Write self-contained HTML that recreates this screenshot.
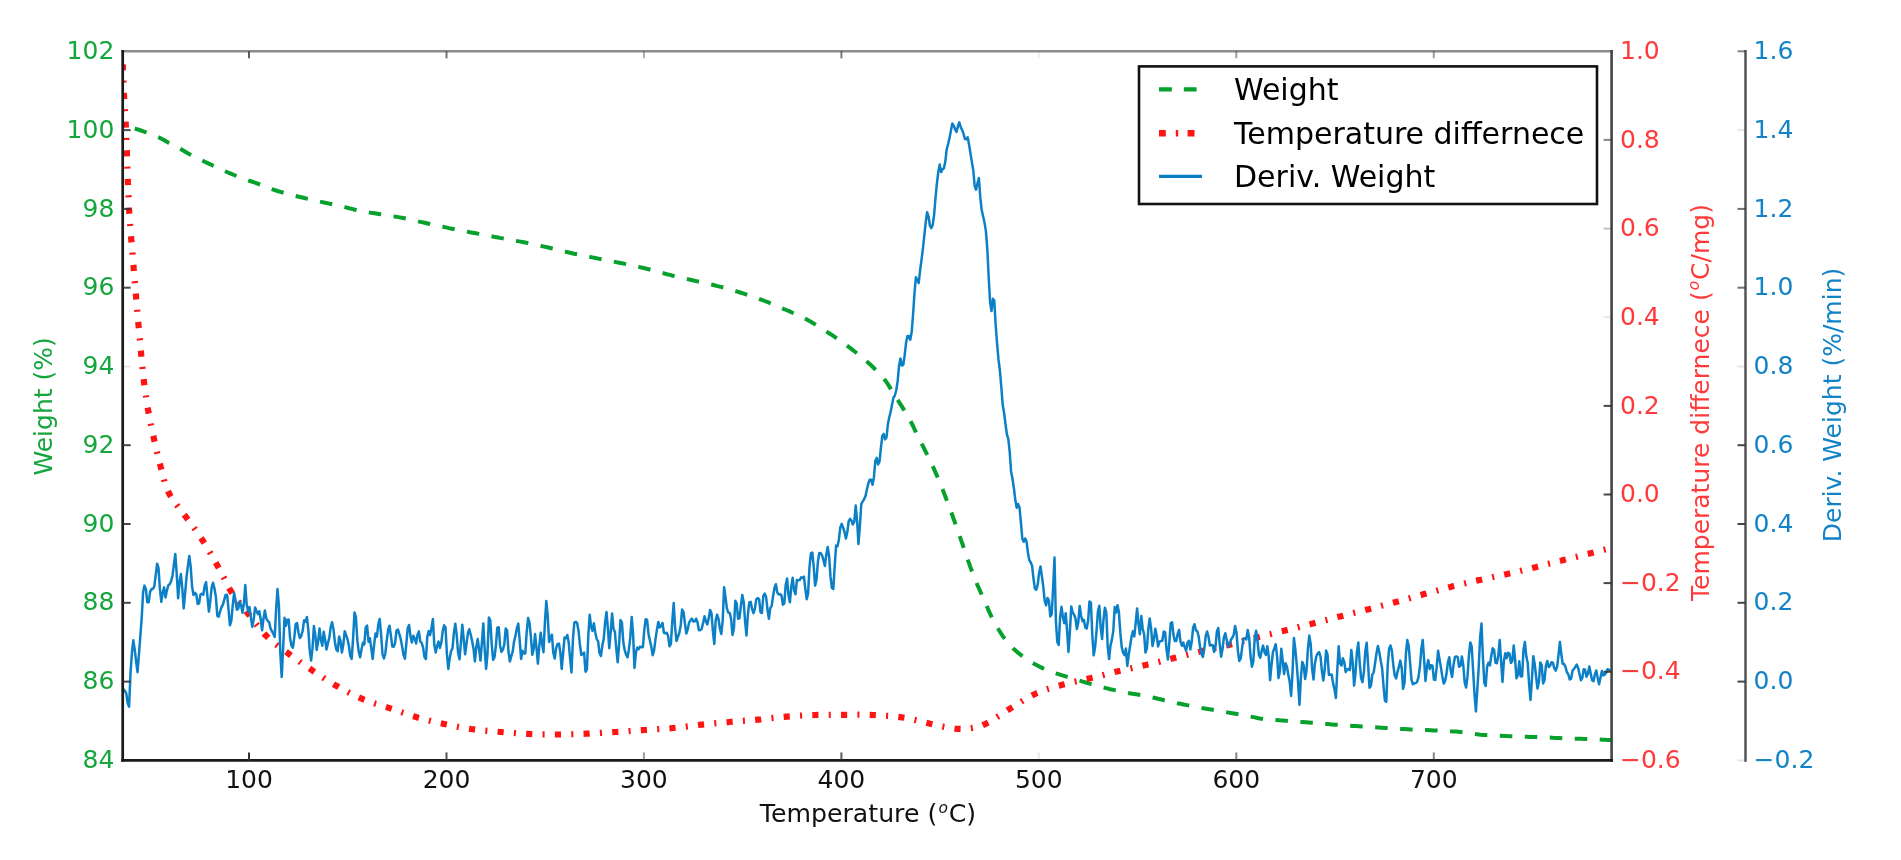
<!DOCTYPE html>
<html><head><meta charset="utf-8"><title>TGA chart</title>
<style>html,body{margin:0;padding:0;background:#fff;overflow:hidden}svg{display:block;filter:blur(0.7px)}</style></head>
<body>
<svg width="1901" height="860" viewBox="0 0 1901 860" font-family="'DejaVu Sans','Liberation Sans',sans-serif" font-size="25">
<rect width="1901" height="860" fill="#fff"/>
<clipPath id="ax"><rect x="122.7" y="51.3" width="1488.8999999999999" height="709.1"/></clipPath>
<g clip-path="url(#ax)" fill="none">
<path d="M123.5,125.8 L125.6,126.3 L128.6,127.0 L132.1,127.9 L135.8,128.9 L139.5,130.0 L142.7,131.1 L146.1,132.3 L149.6,133.7 L153.1,135.0 L156.3,136.3 L159.0,137.5 L163.0,139.5 L166.0,141.3 L169.0,143.0 L172.3,144.7 L175.7,146.3 L179.0,148.0 L182.3,150.0 L185.7,152.0 L189.0,154.0 L192.3,155.7 L195.5,157.3 L199.0,159.0 L201.8,160.3 L204.7,161.7 L207.7,163.1 L210.7,164.5 L213.6,165.9 L216.6,167.3 L219.6,168.7 L222.5,170.0 L225.3,171.3 L228.0,172.5 L230.8,173.7 L234.0,175.0 L237.0,176.2 L240.4,177.4 L243.8,178.7 L247.1,179.9 L250.0,181.0 L253.5,182.2 L256.3,183.2 L260.0,184.5 L262.4,185.4 L265.1,186.5 L268.0,187.6 L271.0,188.8 L274.2,189.9 L277.5,191.0 L280.5,191.9 L283.7,192.8 L287.0,193.7 L290.3,194.6 L293.7,195.4 L296.9,196.2 L300.0,197.0 L303.4,197.8 L306.7,198.6 L309.8,199.3 L313.0,200.1 L316.1,200.8 L319.4,201.5 L322.3,202.1 L325.2,202.8 L328.1,203.4 L331.1,204.0 L334.1,204.7 L337.0,205.3 L340.0,206.0 L343.0,206.7 L346.0,207.4 L349.0,208.2 L352.0,208.9 L355.0,209.7 L358.0,210.4 L361.0,211.0 L364.0,211.6 L367.0,212.1 L370.0,212.6 L373.0,213.1 L376.0,213.5 L379.0,214.0 L382.0,214.5 L385.0,215.0 L387.9,215.4 L390.8,215.9 L393.7,216.4 L396.7,216.9 L399.8,217.4 L403.0,218.0 L405.9,218.6 L408.9,219.2 L412.0,219.9 L415.1,220.6 L418.3,221.4 L421.5,222.1 L424.6,222.8 L427.7,223.5 L430.8,224.2 L433.8,224.8 L436.9,225.5 L439.9,226.2 L442.9,226.8 L446.0,227.4 L449.0,228.1 L452.0,228.7 L455.0,229.3 L458.0,229.9 L461.0,230.5 L463.9,231.0 L466.9,231.6 L469.8,232.2 L472.8,232.7 L475.8,233.3 L478.8,233.9 L481.8,234.5 L484.8,235.0 L487.8,235.6 L490.8,236.2 L493.8,236.8 L496.8,237.3 L499.8,237.9 L502.8,238.4 L505.8,239.0 L508.7,239.5 L511.7,240.0 L514.7,240.5 L517.7,241.1 L520.6,241.6 L523.6,242.2 L526.6,242.8 L529.5,243.4 L532.5,244.0 L535.4,244.7 L538.3,245.3 L541.3,246.0 L544.2,246.6 L547.2,247.3 L550.2,248.0 L553.1,248.7 L556.1,249.4 L559.1,250.2 L562.0,250.9 L565.0,251.6 L568.0,252.3 L571.0,253.0 L574.0,253.7 L577.1,254.3 L580.1,254.9 L583.2,255.6 L586.2,256.2 L589.3,256.8 L592.3,257.4 L595.3,258.0 L598.3,258.6 L601.3,259.2 L604.2,259.8 L607.2,260.3 L610.1,260.9 L613.1,261.5 L616.0,262.1 L619.0,262.7 L621.9,263.3 L624.9,263.9 L627.8,264.5 L630.8,265.1 L633.7,265.8 L636.6,266.4 L639.6,267.1 L642.6,267.8 L645.6,268.5 L648.7,269.3 L651.7,270.1 L654.8,271.0 L657.9,271.8 L660.9,272.6 L664.0,273.4 L667.0,274.2 L670.0,274.9 L672.9,275.7 L675.9,276.4 L678.8,277.1 L681.7,277.7 L684.6,278.4 L687.6,279.1 L690.5,279.8 L693.5,280.5 L696.4,281.1 L699.4,281.8 L702.4,282.4 L705.4,283.1 L708.4,283.8 L711.4,284.5 L714.3,285.2 L717.6,286.1 L720.9,286.9 L724.2,287.8 L727.5,288.7 L730.8,289.6 L734.0,290.6 L737.3,291.6 L740.2,292.5 L743.0,293.4 L745.9,294.3 L748.8,295.3 L751.7,296.2 L754.5,297.2 L757.4,298.2 L760.3,299.3 L763.2,300.4 L766.1,301.5 L769.0,302.7 L771.9,303.9 L774.8,305.1 L777.7,306.3 L780.5,307.6 L783.4,308.8 L786.3,310.0 L789.1,311.2 L791.9,312.5 L794.8,313.7 L797.6,315.0 L800.4,316.3 L803.2,317.6 L805.9,319.0 L808.6,320.5 L811.3,322.0 L813.9,323.6 L816.5,325.2 L819.1,326.8 L821.7,328.4 L824.3,330.1 L826.9,331.8 L829.5,333.5 L832.1,335.2 L834.6,336.9 L837.2,338.7 L839.8,340.5 L842.3,342.3 L844.8,344.1 L847.3,345.9 L849.8,347.7 L852.2,349.6 L854.7,351.5 L857.1,353.4 L859.5,355.3 L861.9,357.3 L864.2,359.2 L866.5,361.2 L869.1,363.5 L871.6,365.8 L874.1,368.2 L876.5,370.5 L878.9,372.9 L881.1,375.3 L883.2,377.8 L885.1,380.2 L886.9,382.7 L888.5,385.1 L890.0,387.6 L891.6,390.2 L893.2,392.9 L895.0,395.7 L896.7,398.3 L898.4,401.0 L900.2,403.8 L902.0,406.6 L903.8,409.6 L905.6,412.5 L907.3,415.4 L909.0,418.4 L910.4,421.1 L911.9,423.8 L913.3,426.5 L914.6,429.3 L916.0,432.1 L917.3,434.9 L918.6,437.6 L919.9,440.2 L921.2,442.8 L922.8,445.9 L924.3,448.9 L925.8,451.8 L927.2,454.7 L928.7,457.6 L930.1,460.6 L931.6,463.7 L932.9,466.5 L934.2,469.4 L935.5,472.4 L936.8,475.4 L938.1,478.5 L939.4,481.6 L940.7,484.8 L942.0,488.0 L943.2,490.9 L944.3,493.9 L945.5,497.0 L946.7,500.1 L947.9,503.2 L949.1,506.4 L950.3,509.6 L951.4,512.8 L952.6,516.0 L953.6,518.9 L954.7,521.8 L955.7,524.8 L956.8,527.8 L957.8,530.7 L958.8,533.7 L959.9,536.7 L960.9,539.7 L962.0,542.7 L963.0,545.7 L964.0,548.7 L965.1,551.7 L966.1,554.8 L967.2,557.8 L968.2,560.9 L969.3,563.9 L970.3,566.9 L971.4,569.8 L972.4,572.6 L973.5,575.4 L974.8,578.7 L976.1,581.9 L977.4,585.0 L978.8,588.0 L980.1,591.0 L981.4,593.9 L982.7,596.9 L984.0,599.8 L985.3,602.7 L986.5,605.6 L987.8,608.5 L989.0,611.4 L990.3,614.2 L991.6,617.0 L993.0,619.8 L994.5,622.5 L996.1,625.2 L997.7,628.0 L999.3,630.7 L1001.0,633.4 L1002.8,636.1 L1004.6,638.6 L1006.5,641.1 L1008.4,643.4 L1010.7,645.9 L1013.0,648.2 L1015.5,650.5 L1018.0,652.6 L1020.5,654.6 L1023.2,656.6 L1025.9,658.5 L1028.7,660.4 L1031.5,662.2 L1034.4,663.9 L1037.4,665.5 L1040.5,667.1 L1043.6,668.6 L1046.8,670.0 L1049.7,671.2 L1052.6,672.2 L1055.5,673.3 L1058.5,674.2 L1061.6,675.2 L1064.7,676.1 L1067.8,677.0 L1071.0,678.0 L1073.8,678.9 L1076.8,679.8 L1079.7,680.7 L1082.7,681.6 L1085.7,682.5 L1088.7,683.4 L1091.6,684.3 L1094.6,685.1 L1097.5,685.9 L1100.7,686.8 L1103.9,687.6 L1107.1,688.4 L1110.3,689.2 L1113.5,689.9 L1116.6,690.6 L1119.8,691.3 L1123.0,692.0 L1126.2,692.6 L1129.4,693.2 L1132.6,693.8 L1135.9,694.3 L1139.1,694.8 L1142.3,695.4 L1145.5,696.0 L1148.7,696.6 L1151.9,697.3 L1155.0,698.0 L1158.2,698.8 L1161.3,699.5 L1164.5,700.3 L1167.6,701.1 L1170.8,701.8 L1174.0,702.5 L1177.2,703.2 L1180.4,703.8 L1183.7,704.5 L1186.9,705.1 L1190.2,705.8 L1193.4,706.4 L1196.7,707.0 L1199.9,707.6 L1203.1,708.2 L1206.3,708.7 L1209.5,709.3 L1212.7,709.8 L1215.9,710.4 L1219.1,710.9 L1222.3,711.4 L1225.5,712.0 L1228.8,712.6 L1232.2,713.2 L1235.6,713.8 L1239.1,714.4 L1242.4,715.0 L1245.5,715.6 L1248.4,716.1 L1251.0,716.6 L1254.8,717.4 L1257.4,718.0 L1260.0,718.5 L1263.8,719.0 L1266.4,719.3 L1269.3,719.5 L1272.5,719.8 L1275.8,720.0 L1279.2,720.3 L1282.7,720.5 L1286.1,720.8 L1289.4,721.0 L1292.6,721.2 L1295.8,721.5 L1299.0,721.8 L1302.2,722.0 L1305.4,722.2 L1308.6,722.5 L1311.8,722.8 L1315.0,723.0 L1317.9,723.2 L1320.5,723.5 L1323.0,723.7 L1325.5,723.9 L1328.2,724.1 L1331.4,724.4 L1335.3,724.7 L1340.0,725.0 L1342.3,725.2 L1344.7,725.3 L1347.3,725.5 L1350.0,725.7 L1352.9,725.9 L1355.9,726.1 L1358.9,726.3 L1362.1,726.5 L1365.3,726.7 L1368.6,726.9 L1371.9,727.1 L1375.2,727.3 L1378.6,727.5 L1381.9,727.7 L1385.2,727.9 L1388.5,728.1 L1391.7,728.3 L1394.9,728.5 L1398.0,728.7 L1401.1,728.9 L1404.2,729.0 L1407.5,729.2 L1410.7,729.4 L1414.0,729.5 L1417.3,729.7 L1420.6,729.8 L1423.9,730.0 L1427.2,730.1 L1430.4,730.2 L1433.6,730.4 L1436.8,730.5 L1439.8,730.7 L1442.8,730.8 L1445.7,731.0 L1448.5,731.1 L1451.1,731.3 L1453.6,731.4 L1456.0,731.6 L1460.3,732.0 L1463.8,732.3 L1466.7,732.7 L1469.3,733.1 L1471.7,733.5 L1474.2,733.9 L1477.1,734.3 L1480.6,734.7 L1485.0,735.0 L1487.4,735.1 L1489.9,735.3 L1492.5,735.4 L1495.2,735.6 L1498.1,735.7 L1501.0,735.8 L1504.0,735.9 L1507.1,736.1 L1510.2,736.2 L1513.5,736.3 L1516.7,736.4 L1520.0,736.5 L1523.4,736.7 L1526.7,736.8 L1530.1,736.9 L1533.4,737.0 L1536.8,737.1 L1540.2,737.3 L1543.5,737.4 L1546.4,737.5 L1549.6,737.6 L1552.8,737.8 L1556.1,737.9 L1559.6,738.0 L1563.1,738.2 L1566.6,738.3 L1570.2,738.4 L1573.8,738.6 L1577.4,738.7 L1580.9,738.8 L1584.4,739.0 L1587.8,739.1 L1591.0,739.2 L1594.2,739.4 L1597.2,739.5 L1600.1,739.6 L1602.7,739.7 L1605.2,739.8 L1607.4,739.9 L1609.3,739.9 L1611.0,740.0" stroke="#06a02c" stroke-width="4.0" stroke-dasharray="12.5,12.5" stroke-dashoffset="13.42"/>
<path d="M122.5,56.0 L122.6,57.7 L122.6,59.9 L122.7,62.4 L122.8,65.3 L122.9,68.3 L123.1,71.6 L123.2,75.0 L123.3,78.5 L123.5,82.0 L123.6,85.5 L123.7,88.8 L123.9,92.0 L124.0,95.0 L124.2,98.2 L124.3,101.0 L124.5,103.7 L124.6,106.3 L124.8,108.8 L125.0,111.5 L125.2,114.3 L125.4,117.5 L125.6,121.1 L125.8,125.3 L126.0,130.0 L126.1,132.3 L126.2,134.8 L126.3,137.4 L126.4,140.2 L126.5,143.1 L126.6,146.1 L126.7,149.2 L126.9,152.4 L127.0,155.6 L127.1,158.9 L127.2,162.3 L127.3,165.7 L127.4,169.1 L127.6,172.5 L127.7,175.9 L127.8,179.3 L127.9,182.7 L128.1,186.0 L128.2,189.3 L128.3,192.5 L128.5,195.6 L128.6,198.6 L128.7,201.5 L128.9,204.3 L129.0,207.0 L129.2,210.7 L129.4,214.3 L129.6,217.6 L129.8,220.9 L130.1,224.0 L130.3,227.0 L130.5,229.9 L130.7,232.8 L131.0,235.7 L131.2,238.5 L131.4,241.4 L131.7,244.3 L131.9,247.2 L132.2,250.2 L132.5,253.4 L132.7,256.6 L133.0,260.0 L133.2,262.8 L133.5,265.8 L133.7,268.7 L134.0,271.7 L134.2,274.8 L134.5,277.9 L134.7,281.1 L135.0,284.2 L135.3,287.4 L135.5,290.6 L135.8,293.9 L136.1,297.1 L136.3,300.3 L136.6,303.5 L136.9,306.7 L137.2,309.8 L137.4,312.9 L137.7,316.0 L138.0,319.1 L138.2,322.1 L138.5,325.0 L138.8,328.2 L139.1,331.5 L139.4,334.7 L139.7,337.9 L140.0,341.2 L140.3,344.4 L140.5,347.6 L140.8,350.8 L141.1,353.9 L141.4,357.0 L141.7,360.1 L142.0,363.1 L142.3,366.0 L142.6,368.9 L142.9,371.7 L143.2,374.4 L143.4,377.1 L143.7,379.6 L144.0,382.0 L144.5,385.9 L144.9,389.6 L145.4,393.0 L145.9,396.1 L146.3,399.1 L146.8,402.0 L147.2,404.7 L147.6,407.3 L148.1,409.9 L148.5,412.4 L149.0,415.0 L149.6,418.4 L150.2,421.5 L150.8,424.4 L151.4,427.2 L152.0,430.0 L152.6,432.9 L153.3,435.8 L154.0,439.0 L154.7,442.0 L155.4,445.2 L156.1,448.4 L156.9,451.7 L157.7,455.1 L158.5,458.4 L159.3,461.7 L160.2,464.9 L161.0,468.0 L161.9,471.3 L162.7,474.6 L163.5,477.8 L164.3,480.9 L165.2,484.0 L166.3,487.1 L167.5,490.2 L169.0,493.3 L170.4,495.8 L172.0,498.4 L173.7,500.9 L175.6,503.4 L177.5,506.0 L179.5,508.5 L181.4,511.0 L183.4,513.5 L185.2,515.9 L187.0,518.3 L188.9,520.9 L190.7,523.4 L192.5,525.9 L194.3,528.3 L196.0,530.7 L197.8,533.2 L199.5,535.7 L201.2,538.3 L203.0,541.0 L204.6,543.5 L206.2,546.2 L207.9,548.9 L209.5,551.6 L211.1,554.4 L212.7,557.2 L214.3,560.0 L215.8,562.7 L217.3,565.4 L218.8,568.0 L220.3,570.8 L221.8,573.6 L223.2,576.4 L224.6,579.1 L225.9,581.8 L227.2,584.5 L228.6,587.1 L230.0,589.6 L231.5,592.0 L233.4,594.9 L235.3,597.6 L237.3,600.2 L239.3,602.7 L241.4,605.3 L243.6,608.0 L246.0,611.0 L247.8,613.3 L249.7,615.7 L251.6,618.3 L253.6,620.9 L255.7,623.6 L257.8,626.2 L259.9,628.8 L262.1,631.4 L264.2,633.8 L266.4,636.0 L268.8,638.3 L271.3,640.5 L273.8,642.6 L276.3,644.6 L278.8,646.5 L281.4,648.4 L283.9,650.3 L286.5,652.1 L289.0,654.0 L291.5,655.9 L294.0,657.7 L296.5,659.5 L299.0,661.2 L301.4,663.0 L304.0,664.7 L306.5,666.5 L309.1,668.2 L311.7,670.0 L314.4,671.8 L317.1,673.6 L319.8,675.4 L322.5,677.2 L325.3,679.1 L328.1,680.8 L331.0,682.6 L333.8,684.3 L336.7,686.0 L339.3,687.5 L342.0,688.9 L344.7,690.4 L347.4,691.8 L350.2,693.2 L352.9,694.6 L355.7,695.9 L358.4,697.2 L361.2,698.4 L363.9,699.6 L366.9,700.8 L369.9,701.9 L372.9,702.9 L375.9,703.9 L379.0,704.8 L382.0,705.8 L385.0,706.7 L388.0,707.6 L391.0,708.6 L394.0,709.6 L397.1,710.7 L400.1,711.7 L403.2,712.8 L406.2,713.8 L409.2,714.9 L412.2,715.9 L415.2,716.8 L418.2,717.7 L421.5,718.6 L424.7,719.5 L427.9,720.3 L431.1,721.1 L434.3,721.9 L437.5,722.6 L440.7,723.3 L444.0,724.0 L446.9,724.6 L449.9,725.2 L452.8,725.8 L455.8,726.4 L458.8,727.0 L461.8,727.5 L464.8,728.0 L467.9,728.5 L471.0,729.0 L474.2,729.4 L477.4,729.8 L480.7,730.2 L484.0,730.5 L487.3,730.8 L490.7,731.1 L494.0,731.4 L497.3,731.7 L500.6,732.0 L503.9,732.3 L507.2,732.5 L510.5,732.8 L513.8,733.0 L517.0,733.3 L520.3,733.5 L523.6,733.7 L526.8,733.8 L530.0,734.0 L533.2,734.1 L536.3,734.2 L539.4,734.3 L542.5,734.4 L545.6,734.4 L548.7,734.5 L551.8,734.5 L554.9,734.5 L558.0,734.5 L561.1,734.5 L564.2,734.4 L567.3,734.4 L570.4,734.3 L573.4,734.2 L576.5,734.1 L579.7,734.0 L582.8,733.8 L586.0,733.7 L589.2,733.6 L592.5,733.4 L595.8,733.2 L599.1,733.0 L602.4,732.8 L605.8,732.6 L609.1,732.4 L612.4,732.2 L615.7,732.0 L619.0,731.8 L622.3,731.6 L625.5,731.4 L628.8,731.1 L632.1,730.9 L635.3,730.7 L638.6,730.5 L641.8,730.2 L645.0,730.0 L648.2,729.8 L651.3,729.6 L654.4,729.4 L657.5,729.2 L660.6,729.0 L663.7,728.8 L666.8,728.5 L669.9,728.3 L673.0,728.0 L676.1,727.7 L679.3,727.3 L682.5,727.0 L685.7,726.6 L688.8,726.2 L692.0,725.8 L695.2,725.4 L698.3,725.0 L701.5,724.7 L704.6,724.4 L707.8,724.1 L710.9,723.7 L714.0,723.4 L717.1,723.1 L720.2,722.9 L723.4,722.6 L726.5,722.3 L729.6,722.0 L732.7,721.7 L735.8,721.5 L739.0,721.2 L742.1,720.9 L745.2,720.7 L748.3,720.4 L751.5,720.2 L754.6,719.9 L757.8,719.6 L761.0,719.3 L764.2,718.9 L767.5,718.6 L770.8,718.2 L774.0,717.9 L777.3,717.5 L780.6,717.2 L783.8,716.9 L787.0,716.6 L790.2,716.4 L793.3,716.1 L796.4,715.9 L799.4,715.7 L802.5,715.5 L805.6,715.4 L808.7,715.2 L811.8,715.1 L815.0,715.0 L818.2,714.9 L821.5,714.9 L824.9,714.8 L828.2,714.8 L831.6,714.8 L834.9,714.8 L838.3,714.8 L841.5,714.8 L844.8,714.8 L848.0,714.8 L851.2,714.8 L854.3,714.8 L857.4,714.7 L860.5,714.7 L863.6,714.8 L866.7,714.8 L869.9,714.9 L873.0,715.0 L876.2,715.1 L879.4,715.3 L882.5,715.5 L885.7,715.7 L888.9,715.9 L892.1,716.2 L895.3,716.5 L898.5,716.9 L901.7,717.3 L904.9,717.8 L908.3,718.5 L911.7,719.2 L915.0,720.0 L918.4,720.8 L921.6,721.6 L924.6,722.4 L927.4,723.1 L930.0,723.7 L933.9,724.6 L937.1,725.3 L939.8,725.9 L942.3,726.5 L945.0,727.0 L948.4,727.6 L951.6,728.2 L954.7,728.6 L958.0,728.8 L961.4,728.9 L964.9,728.8 L968.5,728.5 L972.0,728.0 L975.3,727.4 L978.3,726.8 L981.8,725.6 L986.0,723.7 L988.3,722.5 L990.7,721.0 L993.4,719.4 L996.1,717.6 L999.0,715.8 L1001.9,713.9 L1004.8,712.0 L1007.7,710.1 L1010.5,708.4 L1013.3,706.7 L1016.1,704.9 L1018.9,703.2 L1021.7,701.4 L1024.5,699.7 L1027.4,698.0 L1030.2,696.4 L1033.1,694.9 L1036.0,693.5 L1038.9,692.2 L1041.9,691.1 L1044.9,690.0 L1047.8,689.0 L1050.8,688.1 L1053.9,687.2 L1056.9,686.3 L1059.9,685.5 L1063.0,684.6 L1066.1,683.8 L1069.2,683.0 L1072.3,682.2 L1075.4,681.5 L1078.5,680.8 L1081.6,680.1 L1084.8,679.4 L1087.9,678.7 L1091.0,678.0 L1094.1,677.2 L1097.2,676.5 L1100.4,675.7 L1103.5,674.9 L1106.6,674.1 L1109.7,673.3 L1112.8,672.5 L1115.9,671.7 L1119.0,671.0 L1122.0,670.3 L1125.0,669.6 L1128.0,668.9 L1131.0,668.3 L1134.0,667.6 L1137.0,667.0 L1140.0,666.3 L1143.0,665.6 L1146.0,664.9 L1149.1,664.2 L1152.1,663.4 L1155.2,662.7 L1158.4,661.9 L1161.5,661.1 L1164.6,660.3 L1167.7,659.6 L1170.9,658.8 L1174.0,658.0 L1177.1,657.2 L1180.3,656.4 L1183.4,655.7 L1186.6,654.9 L1189.8,654.1 L1192.9,653.3 L1196.1,652.5 L1199.3,651.8 L1202.4,651.0 L1205.5,650.3 L1208.7,649.5 L1211.8,648.8 L1215.0,648.1 L1218.1,647.4 L1221.2,646.6 L1224.3,645.9 L1227.5,645.2 L1230.6,644.4 L1233.7,643.6 L1236.8,642.8 L1240.0,642.0 L1243.1,641.1 L1246.2,640.3 L1249.3,639.5 L1252.4,638.6 L1255.6,637.8 L1258.7,637.0 L1261.8,636.2 L1265.0,635.4 L1268.1,634.6 L1271.3,633.9 L1274.4,633.1 L1277.6,632.3 L1280.7,631.5 L1283.9,630.8 L1287.0,630.0 L1290.1,629.2 L1293.3,628.4 L1296.4,627.7 L1299.5,626.9 L1302.6,626.1 L1305.8,625.3 L1308.9,624.6 L1311.9,623.8 L1315.0,623.0 L1317.9,622.3 L1320.5,621.6 L1323.0,620.9 L1325.5,620.3 L1328.1,619.6 L1330.9,618.9 L1334.1,618.1 L1337.7,617.1 L1342.0,616.0 L1344.3,615.4 L1346.7,614.8 L1349.2,614.1 L1351.8,613.4 L1354.6,612.7 L1357.5,612.0 L1360.4,611.2 L1363.4,610.5 L1366.5,609.7 L1369.6,608.9 L1372.8,608.0 L1376.0,607.2 L1379.2,606.4 L1382.4,605.5 L1385.6,604.7 L1388.7,603.9 L1391.9,603.0 L1395.0,602.2 L1398.0,601.4 L1400.9,600.6 L1403.7,599.8 L1406.6,599.0 L1409.5,598.2 L1412.4,597.4 L1415.3,596.6 L1418.2,595.8 L1421.2,595.0 L1424.1,594.1 L1427.0,593.3 L1430.0,592.5 L1432.9,591.7 L1435.8,590.8 L1438.8,590.0 L1441.7,589.2 L1444.6,588.4 L1447.5,587.7 L1450.5,586.9 L1453.4,586.1 L1456.3,585.4 L1459.4,584.6 L1462.4,583.9 L1465.5,583.2 L1468.5,582.5 L1471.6,581.8 L1474.7,581.1 L1477.7,580.4 L1480.8,579.8 L1483.8,579.1 L1486.9,578.4 L1489.9,577.8 L1493.0,577.1 L1496.1,576.4 L1499.1,575.8 L1502.2,575.1 L1505.2,574.4 L1508.3,573.7 L1511.3,573.0 L1514.4,572.3 L1517.5,571.6 L1520.6,570.8 L1523.8,570.0 L1527.0,569.3 L1530.2,568.5 L1533.4,567.7 L1536.6,566.9 L1539.9,566.1 L1543.1,565.2 L1546.3,564.4 L1549.4,563.6 L1552.5,562.9 L1555.6,562.1 L1558.6,561.3 L1561.6,560.6 L1564.4,559.8 L1567.2,559.1 L1569.9,558.5 L1572.5,557.8 L1576.2,556.9 L1579.9,555.9 L1583.5,555.0 L1587.1,554.1 L1590.5,553.2 L1593.8,552.4 L1596.9,551.6 L1599.9,550.8 L1602.6,550.1 L1605.1,549.5 L1607.4,548.9 L1609.4,548.4 L1611.0,548.0" stroke="#ff1414" stroke-width="6.2" stroke-dasharray="6.15,10.25,2.05,10.25" stroke-dashoffset="20.44"/>
<path d="M123.5,689.1 L124.9,690.9 L126.3,693.4 L127.7,703.3 L129.1,706.7 L130.5,673.4 L131.9,652.9 L133.3,640.3 L134.7,649.4 L136.1,661.1 L137.5,672.2 L138.9,655.2 L140.3,636.4 L141.7,618.1 L143.1,592.1 L144.5,585.6 L145.9,589.1 L147.3,602.3 L148.7,602.3 L150.1,591.8 L151.5,589.1 L152.9,588.9 L154.3,586.4 L155.7,575.4 L157.1,563.7 L158.5,567.8 L159.9,588.9 L161.3,601.9 L162.7,592.7 L164.1,587.4 L165.5,597.4 L166.9,590.6 L168.3,585.4 L169.7,584.2 L171.1,581.3 L172.5,575.7 L173.9,564.4 L175.3,554.0 L176.7,573.3 L178.1,598.3 L179.5,582.1 L180.9,574.1 L182.3,588.5 L183.7,608.5 L185.1,593.3 L186.5,577.4 L187.9,565.9 L189.3,556.0 L190.7,566.8 L192.1,586.8 L193.5,595.1 L194.9,592.9 L196.3,594.4 L197.7,604.0 L199.1,603.4 L200.5,594.4 L201.9,593.8 L203.3,594.7 L204.7,585.8 L206.1,582.1 L207.5,597.1 L208.9,611.7 L210.3,600.9 L211.7,587.2 L213.1,582.7 L214.5,588.7 L215.9,596.9 L217.3,615.9 L218.7,616.6 L220.1,611.3 L221.5,607.1 L222.9,604.6 L224.3,599.6 L225.7,594.7 L227.1,594.9 L228.5,608.9 L229.9,625.3 L231.3,620.8 L232.7,605.7 L234.1,593.1 L235.5,600.6 L236.9,609.7 L238.3,608.6 L239.7,601.4 L241.1,605.2 L242.5,612.7 L243.9,603.5 L245.3,585.0 L246.7,604.5 L248.1,611.4 L249.5,607.1 L250.9,617.9 L252.3,626.9 L253.7,619.2 L255.1,607.4 L256.5,611.0 L257.9,614.1 L259.3,611.2 L260.7,619.0 L262.1,630.3 L263.5,618.7 L264.9,610.4 L266.3,618.4 L267.7,620.9 L269.1,621.9 L270.5,628.3 L271.9,631.1 L273.3,633.7 L274.7,636.9 L276.1,609.6 L277.5,589.0 L278.9,605.2 L280.3,652.8 L281.7,677.0 L283.1,649.0 L284.5,617.7 L285.9,625.8 L287.3,619.8 L288.7,619.6 L290.1,638.6 L291.5,645.7 L292.9,647.7 L294.3,637.4 L295.7,624.0 L297.1,623.0 L298.5,632.7 L299.9,638.1 L301.3,635.8 L302.7,630.6 L304.1,620.2 L305.5,621.7 L306.9,617.0 L308.3,629.4 L309.7,650.2 L311.1,660.5 L312.5,648.2 L313.9,626.0 L315.3,635.0 L316.7,650.0 L318.1,641.6 L319.5,628.4 L320.9,639.6 L322.3,645.7 L323.7,631.8 L325.1,639.7 L326.5,649.5 L327.9,643.2 L329.3,637.9 L330.7,627.2 L332.1,622.2 L333.5,629.4 L334.9,642.0 L336.3,649.6 L337.7,651.2 L339.1,636.5 L340.5,640.8 L341.9,652.6 L343.3,644.5 L344.7,631.2 L346.1,635.2 L347.5,639.2 L348.9,645.7 L350.3,656.0 L351.7,658.9 L353.1,638.2 L354.5,612.4 L355.9,617.2 L357.3,639.8 L358.7,651.7 L360.1,657.2 L361.5,649.5 L362.9,642.8 L364.3,644.5 L365.7,627.4 L367.1,625.5 L368.5,641.7 L369.9,638.2 L371.3,648.7 L372.7,659.0 L374.1,644.9 L375.5,633.5 L376.9,636.7 L378.3,624.3 L379.7,619.0 L381.1,634.4 L382.5,654.0 L383.9,658.5 L385.3,653.5 L386.7,641.0 L388.1,630.2 L389.5,625.7 L390.9,635.4 L392.3,646.5 L393.7,646.7 L395.1,642.9 L396.5,630.5 L397.9,629.5 L399.3,633.9 L400.7,638.9 L402.1,646.3 L403.5,654.8 L404.9,658.7 L406.3,644.1 L407.7,628.2 L409.1,625.0 L410.5,636.4 L411.9,642.4 L413.3,635.8 L414.7,638.6 L416.1,643.5 L417.5,634.7 L418.9,631.4 L420.3,641.7 L421.7,642.9 L423.1,647.6 L424.5,657.1 L425.9,659.1 L427.3,636.7 L428.7,631.1 L430.1,635.0 L431.5,627.9 L432.9,619.1 L434.3,644.8 L435.7,652.5 L437.1,646.1 L438.5,641.6 L439.9,648.0 L441.3,642.6 L442.7,631.3 L444.1,625.3 L445.5,627.5 L446.9,653.6 L448.3,669.0 L449.7,658.4 L451.1,651.0 L452.5,648.4 L453.9,632.7 L455.3,623.7 L456.7,635.1 L458.1,652.6 L459.5,659.3 L460.9,643.0 L462.3,624.7 L463.7,638.9 L465.1,654.3 L466.5,644.1 L467.9,633.2 L469.3,629.2 L470.7,634.7 L472.1,640.9 L473.5,648.4 L474.9,661.4 L476.3,647.2 L477.7,639.1 L479.1,649.4 L480.5,660.6 L481.9,642.7 L483.3,623.4 L484.7,649.1 L486.1,669.0 L487.5,654.0 L488.9,617.6 L490.3,620.3 L491.7,644.0 L493.1,659.8 L494.5,657.4 L495.9,645.6 L497.3,627.6 L498.7,627.2 L500.1,645.7 L501.5,651.9 L502.9,649.6 L504.3,644.4 L505.7,628.6 L507.1,630.4 L508.5,651.8 L509.9,661.5 L511.3,656.2 L512.7,651.7 L514.1,641.2 L515.5,635.9 L516.9,628.0 L518.3,623.6 L519.7,640.5 L521.1,659.0 L522.5,650.8 L523.9,653.5 L525.3,653.5 L526.7,631.8 L528.1,618.1 L529.5,622.7 L530.9,636.9 L532.3,654.8 L533.7,649.0 L535.1,634.1 L536.5,647.9 L537.9,663.7 L539.3,645.9 L540.7,632.7 L542.1,643.7 L543.5,652.2 L544.9,622.6 L546.3,601.0 L547.7,615.5 L549.1,642.0 L550.5,637.9 L551.9,634.6 L553.3,652.8 L554.7,658.5 L556.1,648.1 L557.5,644.2 L558.9,643.5 L560.3,652.0 L561.7,669.0 L563.1,653.4 L564.5,637.6 L565.9,638.2 L567.3,635.0 L568.7,642.5 L570.1,658.3 L571.5,672.4 L572.9,640.0 L574.3,622.5 L575.7,621.8 L577.1,622.9 L578.5,630.5 L579.9,644.5 L581.3,655.1 L582.7,653.9 L584.1,652.6 L585.5,671.7 L586.9,669.6 L588.3,635.6 L589.7,614.8 L591.1,626.9 L592.5,630.9 L593.9,623.2 L595.3,632.8 L596.7,639.1 L598.1,641.1 L599.5,653.0 L600.9,656.0 L602.3,645.8 L603.7,639.1 L605.1,622.4 L606.5,612.0 L607.9,628.7 L609.3,648.2 L610.7,631.8 L612.1,613.5 L613.5,628.8 L614.9,632.1 L616.3,648.6 L617.7,662.3 L619.1,644.3 L620.5,620.1 L621.9,622.1 L623.3,642.3 L624.7,650.2 L626.1,654.7 L627.5,657.3 L628.9,649.7 L630.3,637.2 L631.7,617.0 L633.1,634.4 L634.5,668.0 L635.9,652.4 L637.3,647.5 L638.7,649.1 L640.1,646.5 L641.5,647.2 L642.9,647.2 L644.3,629.9 L645.7,619.2 L647.1,619.8 L648.5,633.9 L649.9,640.4 L651.3,646.6 L652.7,655.2 L654.1,650.3 L655.5,639.1 L656.9,629.9 L658.3,621.9 L659.7,627.4 L661.1,626.2 L662.5,623.0 L663.9,632.7 L665.3,633.2 L666.7,632.7 L668.1,635.9 L669.5,646.3 L670.9,643.9 L672.3,621.0 L673.7,603.0 L675.1,627.4 L676.5,641.1 L677.9,636.9 L679.3,633.0 L680.7,625.7 L682.1,609.6 L683.5,612.0 L684.9,623.0 L686.3,633.6 L687.7,629.4 L689.1,622.5 L690.5,620.3 L691.9,618.6 L693.3,621.5 L694.7,621.5 L696.1,618.7 L697.5,622.3 L698.9,630.2 L700.3,630.1 L701.7,628.8 L703.1,623.0 L704.5,616.3 L705.9,621.3 L707.3,624.4 L708.7,618.4 L710.1,610.0 L711.5,613.3 L712.9,631.1 L714.3,644.0 L715.7,620.4 L717.1,614.6 L718.5,618.8 L719.9,628.7 L721.3,634.0 L722.7,620.6 L724.1,587.2 L725.5,597.5 L726.9,608.4 L728.3,612.6 L729.7,612.9 L731.1,618.9 L732.5,634.9 L733.9,628.6 L735.3,600.7 L736.7,603.5 L738.1,618.8 L739.5,618.1 L740.9,605.9 L742.3,594.9 L743.7,601.9 L745.1,621.6 L746.5,635.6 L747.9,614.3 L749.3,602.4 L750.7,601.9 L752.1,609.2 L753.5,613.1 L754.9,608.6 L756.3,599.3 L757.7,598.1 L759.1,599.2 L760.5,612.4 L761.9,613.0 L763.3,596.0 L764.7,593.5 L766.1,596.9 L767.5,609.6 L768.9,618.8 L770.3,608.1 L771.7,605.9 L773.1,596.0 L774.5,587.7 L775.9,584.2 L777.3,592.5 L778.7,594.4 L780.1,594.1 L781.5,595.5 L782.9,604.7 L784.3,603.3 L785.7,584.9 L787.1,578.4 L788.5,595.1 L789.9,602.3 L791.3,586.6 L792.7,577.8 L794.1,590.6 L795.5,594.2 L796.9,580.1 L798.3,580.3 L799.7,580.1 L801.1,577.4 L802.5,577.9 L803.9,576.6 L805.3,588.7 L806.7,599.2 L808.1,593.4 L809.5,567.0 L810.9,553.3 L812.3,552.5 L813.7,566.3 L815.1,585.6 L816.5,579.7 L817.9,561.8 L819.3,552.9 L820.7,553.2 L822.1,555.4 L823.5,560.2 L824.9,566.0 L826.3,554.7 L827.7,546.9 L829.1,556.3 L830.5,576.7 L831.9,588.0 L833.3,589.0 L834.7,566.1 L836.1,545.5 L837.5,546.2 L838.9,539.4 L840.3,527.5 L841.7,523.9 L843.1,527.6 L844.5,532.0 L845.9,538.6 L847.3,532.3 L848.7,521.2 L850.1,518.9 L851.5,520.7 L852.9,524.5 L854.3,521.7 L855.7,505.5 L857.1,520.9 L858.5,544.0 L859.9,525.7 L861.3,503.9 L862.7,501.6 L864.1,499.2 L865.5,496.0 L866.9,489.6 L868.3,483.6 L869.7,479.8 L871.1,479.7 L872.5,484.7 L873.9,477.4 L875.3,461.3 L876.7,457.9 L878.1,464.4 L879.5,461.7 L880.9,448.1 L882.3,435.9 L883.7,433.9 L885.1,439.4 L886.5,437.3 L887.9,424.1 L889.3,417.2 L890.7,411.6 L892.1,404.2 L893.5,397.4 L894.9,395.5 L896.3,390.0 L897.7,380.7 L899.1,365.4 L900.5,358.6 L901.9,365.5 L903.3,364.9 L904.7,355.2 L906.1,342.5 L907.5,336.0 L908.9,336.1 L910.3,339.7 L911.7,331.8 L913.1,314.0 L914.5,293.0 L915.9,277.3 L917.3,279.9 L918.7,283.1 L920.1,270.3 L921.5,259.8 L922.9,248.8 L924.3,235.7 L925.7,222.4 L927.1,212.2 L928.5,216.3 L929.9,225.6 L931.3,228.1 L932.7,224.9 L934.1,215.0 L935.5,197.9 L936.9,183.7 L938.3,171.9 L939.7,164.4 L941.1,172.1 L942.5,169.3 L943.9,168.2 L945.3,161.6 L946.7,149.3 L948.1,144.1 L949.5,138.0 L950.9,130.8 L952.3,123.5 L953.7,125.6 L955.1,129.2 L956.5,132.0 L957.9,126.2 L959.3,122.4 L960.7,127.1 L962.1,129.8 L963.5,133.7 L964.9,139.0 L966.3,139.3 L967.7,137.2 L969.1,144.8 L970.5,153.6 L971.9,162.1 L973.3,170.5 L974.7,186.0 L976.1,189.7 L977.5,183.3 L978.9,178.0 L980.3,197.4 L981.7,210.0 L983.1,216.3 L984.5,222.6 L985.9,231.1 L987.3,248.8 L988.7,277.5 L990.1,302.4 L991.5,311.1 L992.9,298.7 L994.3,300.8 L995.7,325.5 L997.1,343.7 L998.5,359.7 L999.9,370.5 L1001.3,387.0 L1002.7,404.8 L1004.1,413.0 L1005.5,424.0 L1006.9,434.5 L1008.3,438.9 L1009.7,451.9 L1011.1,471.7 L1012.5,478.8 L1013.9,488.1 L1015.3,500.1 L1016.7,507.7 L1018.1,504.0 L1019.5,507.5 L1020.9,522.2 L1022.3,538.7 L1023.7,541.8 L1025.1,538.5 L1026.5,541.3 L1027.9,552.5 L1029.3,560.1 L1030.7,562.5 L1032.1,565.7 L1033.5,578.8 L1034.9,588.6 L1036.3,589.7 L1037.7,584.7 L1039.1,573.1 L1040.5,566.4 L1041.9,576.2 L1043.3,586.8 L1044.7,600.8 L1046.1,605.4 L1047.5,597.9 L1048.9,600.4 L1050.3,616.4 L1051.7,614.3 L1053.1,588.3 L1054.5,557.5 L1055.9,621.0 L1057.3,642.0 L1058.7,644.9 L1060.1,617.5 L1061.5,606.8 L1062.9,616.9 L1064.3,623.2 L1065.7,613.2 L1067.1,630.8 L1068.5,652.0 L1069.9,631.4 L1071.3,606.4 L1072.7,612.7 L1074.1,614.5 L1075.5,618.5 L1076.9,629.1 L1078.3,622.2 L1079.7,605.9 L1081.1,615.8 L1082.5,621.2 L1083.9,619.8 L1085.3,627.6 L1086.7,628.6 L1088.1,620.8 L1089.5,601.4 L1090.9,602.5 L1092.3,634.9 L1093.7,655.3 L1095.1,647.2 L1096.5,631.7 L1097.9,611.8 L1099.3,605.8 L1100.7,627.6 L1102.1,639.1 L1103.5,619.3 L1104.9,607.8 L1106.3,612.3 L1107.7,646.6 L1109.1,659.0 L1110.5,645.4 L1111.9,639.6 L1113.3,630.9 L1114.7,607.0 L1116.1,612.6 L1117.5,605.3 L1118.9,612.1 L1120.3,632.4 L1121.7,646.9 L1123.1,652.7 L1124.5,655.1 L1125.9,648.5 L1127.3,666.0 L1128.7,655.0 L1130.1,646.0 L1131.5,636.9 L1132.9,631.2 L1134.3,636.4 L1135.7,622.8 L1137.1,608.4 L1138.5,624.1 L1139.9,634.3 L1141.3,616.0 L1142.7,628.7 L1144.1,634.0 L1145.5,652.6 L1146.9,648.2 L1148.3,629.2 L1149.7,618.4 L1151.1,628.7 L1152.5,646.1 L1153.9,639.6 L1155.3,628.7 L1156.7,635.8 L1158.1,646.5 L1159.5,641.7 L1160.9,641.0 L1162.3,640.7 L1163.7,631.6 L1165.1,632.1 L1166.5,649.3 L1167.9,659.6 L1169.3,643.2 L1170.7,623.3 L1172.1,622.2 L1173.5,635.1 L1174.9,641.1 L1176.3,641.0 L1177.7,633.7 L1179.1,629.9 L1180.5,641.6 L1181.9,645.7 L1183.3,642.6 L1184.7,647.1 L1186.1,650.7 L1187.5,642.7 L1188.9,640.7 L1190.3,649.4 L1191.7,642.1 L1193.1,627.7 L1194.5,624.2 L1195.9,630.5 L1197.3,631.2 L1198.7,636.6 L1200.1,647.3 L1201.5,653.7 L1202.9,656.9 L1204.3,648.7 L1205.7,636.1 L1207.1,631.5 L1208.5,636.7 L1209.9,645.6 L1211.3,644.9 L1212.7,645.2 L1214.1,651.9 L1215.5,646.5 L1216.9,631.5 L1218.3,628.0 L1219.7,644.1 L1221.1,656.7 L1222.5,649.3 L1223.9,637.4 L1225.3,633.3 L1226.7,640.0 L1228.1,646.4 L1229.5,644.5 L1230.9,639.7 L1232.3,637.7 L1233.7,634.8 L1235.1,626.0 L1236.5,632.4 L1237.9,650.9 L1239.3,661.0 L1240.7,658.5 L1242.1,647.9 L1243.5,638.8 L1244.9,638.3 L1246.3,639.5 L1247.7,630.1 L1249.1,637.2 L1250.5,655.5 L1251.9,666.7 L1253.3,661.7 L1254.7,638.4 L1256.1,630.7 L1257.5,640.9 L1258.9,654.9 L1260.3,657.7 L1261.7,650.7 L1263.1,645.6 L1264.5,652.1 L1265.9,655.0 L1267.3,646.3 L1268.7,656.1 L1270.1,680.1 L1271.5,665.1 L1272.9,652.3 L1274.3,648.3 L1275.7,644.2 L1277.1,656.6 L1278.5,678.1 L1279.9,671.4 L1281.3,648.7 L1282.7,660.6 L1284.1,674.0 L1285.5,663.3 L1286.9,666.4 L1288.3,674.7 L1289.7,681.8 L1291.1,696.0 L1292.5,672.7 L1293.9,638.0 L1295.3,649.1 L1296.7,664.1 L1298.1,682.3 L1299.5,704.8 L1300.9,677.0 L1302.3,661.9 L1303.7,665.5 L1305.1,679.1 L1306.5,670.7 L1307.9,649.2 L1309.3,635.6 L1310.7,644.1 L1312.1,668.3 L1313.5,679.6 L1314.9,663.5 L1316.3,656.5 L1317.7,653.4 L1319.1,652.1 L1320.5,656.4 L1321.9,670.8 L1323.3,680.5 L1324.7,669.5 L1326.1,650.6 L1327.5,654.4 L1328.9,674.8 L1330.3,674.6 L1331.7,674.7 L1333.1,683.4 L1334.5,689.2 L1335.9,698.0 L1337.3,669.6 L1338.7,646.3 L1340.1,663.6 L1341.5,665.5 L1342.9,658.3 L1344.3,662.2 L1345.7,672.0 L1347.1,669.5 L1348.5,668.9 L1349.9,670.0 L1351.3,650.0 L1352.7,661.7 L1354.1,685.6 L1355.5,673.0 L1356.9,652.3 L1358.3,642.6 L1359.7,662.5 L1361.1,678.1 L1362.5,682.2 L1363.9,671.7 L1365.3,651.3 L1366.7,642.8 L1368.1,664.5 L1369.5,687.8 L1370.9,685.9 L1372.3,674.6 L1373.7,672.3 L1375.1,663.1 L1376.5,653.2 L1377.9,646.1 L1379.3,652.0 L1380.7,660.8 L1382.1,668.1 L1383.5,685.5 L1384.9,700.7 L1386.3,701.7 L1387.7,665.2 L1389.1,648.8 L1390.5,645.5 L1391.9,650.8 L1393.3,665.1 L1394.7,675.3 L1396.1,678.5 L1397.5,671.9 L1398.9,666.9 L1400.3,660.6 L1401.7,668.0 L1403.1,688.8 L1404.5,682.8 L1405.9,654.1 L1407.3,640.1 L1408.7,645.9 L1410.1,662.9 L1411.5,679.8 L1412.9,684.3 L1414.3,683.2 L1415.7,683.1 L1417.1,681.9 L1418.5,676.9 L1419.9,667.0 L1421.3,649.3 L1422.7,639.9 L1424.1,659.3 L1425.5,680.9 L1426.9,666.8 L1428.3,660.1 L1429.7,669.0 L1431.1,665.3 L1432.5,665.6 L1433.9,679.5 L1435.3,679.9 L1436.7,667.2 L1438.1,650.7 L1439.5,659.3 L1440.9,667.4 L1442.3,676.2 L1443.7,683.5 L1445.1,681.1 L1446.5,673.8 L1447.9,662.5 L1449.3,657.2 L1450.7,670.5 L1452.1,676.9 L1453.5,665.1 L1454.9,657.2 L1456.3,656.4 L1457.7,657.1 L1459.1,666.8 L1460.5,665.8 L1461.9,656.4 L1463.3,665.3 L1464.7,682.7 L1466.1,687.5 L1467.5,676.4 L1468.9,655.8 L1470.3,642.4 L1471.7,646.5 L1473.1,670.3 L1474.5,694.3 L1475.9,711.4 L1477.3,690.1 L1478.7,667.3 L1480.1,637.7 L1481.5,623.6 L1482.9,656.9 L1484.3,682.8 L1485.7,686.0 L1487.1,666.7 L1488.5,662.7 L1489.9,665.4 L1491.3,655.8 L1492.7,648.3 L1494.1,649.9 L1495.5,662.9 L1496.9,663.2 L1498.3,655.4 L1499.7,640.0 L1501.1,661.6 L1502.5,682.0 L1503.9,661.0 L1505.3,653.2 L1506.7,658.1 L1508.1,652.8 L1509.5,653.6 L1510.9,663.0 L1512.3,661.1 L1513.7,645.6 L1515.1,659.4 L1516.5,678.3 L1517.9,675.1 L1519.3,661.3 L1520.7,676.3 L1522.1,676.4 L1523.5,649.7 L1524.9,642.1 L1526.3,656.3 L1527.7,662.9 L1529.1,684.1 L1530.5,700.0 L1531.9,679.3 L1533.3,656.2 L1534.7,664.0 L1536.1,676.9 L1537.5,688.5 L1538.9,682.0 L1540.3,662.4 L1541.7,664.9 L1543.1,683.5 L1544.5,680.1 L1545.9,665.7 L1547.3,661.0 L1548.7,667.0 L1550.1,665.8 L1551.5,662.3 L1552.9,662.6 L1554.3,668.4 L1555.7,670.6 L1557.1,666.8 L1558.5,655.1 L1559.9,642.0 L1561.3,654.3 L1562.7,663.7 L1564.1,663.9 L1565.5,667.0 L1566.9,672.2 L1568.3,674.3 L1569.7,679.5 L1571.1,678.6 L1572.5,670.7 L1573.9,668.9 L1575.3,667.0 L1576.7,664.6 L1578.1,667.7 L1579.5,674.0 L1580.9,680.2 L1582.3,678.1 L1583.7,669.2 L1585.1,669.7 L1586.5,676.8 L1587.9,674.0 L1589.3,666.6 L1590.7,673.4 L1592.1,680.3 L1593.5,681.2 L1594.9,674.1 L1596.3,670.5 L1597.7,678.1 L1599.1,684.3 L1600.5,677.5 L1601.9,671.0 L1603.3,675.4 L1604.7,674.6 L1606.1,672.8 L1607.5,669.3 L1608.9,669.6 L1610.3,671.5" stroke="#0c80c6" stroke-width="2.5" stroke-linejoin="round"/>
</g>
<g fill="none" stroke-linecap="square">
<line x1="122.7" y1="51.3" x2="1611.6" y2="51.3" stroke="#8c8c8c" stroke-width="2.6"/>
<line x1="1611.6" y1="51.3" x2="1611.6" y2="760.4" stroke="#444" stroke-width="2.6"/>
<line x1="122.7" y1="51.3" x2="122.7" y2="760.4" stroke="#1a1a1a" stroke-width="2.7"/>
<line x1="122.7" y1="760.4" x2="1611.6" y2="760.4" stroke="#1a1a1a" stroke-width="2.9"/>
<line x1="1745.5" y1="51.3" x2="1745.5" y2="760.4" stroke="#555" stroke-width="2.5"/>
</g>
<g stroke="#333" stroke-width="2" fill="none">
<path d="M249,760.4v-8" opacity="1"/><path d="M249,51.3v7" opacity="0.80"/>
<path d="M446.5,760.4v-8" opacity="0.85"/><path d="M446.5,51.3v7" opacity="0.68"/>
<path d="M643.9,760.4v-8" opacity="0.5"/><path d="M643.9,51.3v7" opacity="0.40"/>
<path d="M841.4,760.4v-8" opacity="0.8"/><path d="M841.4,51.3v7" opacity="0.64"/>
<path d="M1038.8,760.4v-8" opacity="0.1"/><path d="M1038.8,51.3v7" opacity="0.08"/>
<path d="M1236.3,760.4v-8" opacity="0.6"/><path d="M1236.3,51.3v7" opacity="0.48"/>
<path d="M1433.8,760.4v-8" opacity="0.6"/><path d="M1433.8,51.3v7" opacity="0.48"/>
<path d="M122.7,130.1h8" opacity="0.9"/>
<path d="M122.7,208.9h8" opacity="0.9"/>
<path d="M122.7,287.7h8" opacity="0.9"/>
<path d="M122.7,366.5h8" opacity="0.12"/>
<path d="M122.7,445.2h8" opacity="0.9"/>
<path d="M122.7,524.0h8" opacity="0.9"/>
<path d="M122.7,602.8h8" opacity="0.9"/>
<path d="M122.7,681.6h8" opacity="0.9"/>
<path d="M1611.6,139.9h-8" opacity="0.6"/>
<path d="M1611.6,228.6h-8" opacity="0.3"/>
<path d="M1611.6,317.2h-8" opacity="0.12"/>
<path d="M1611.6,405.9h-8" opacity="0.9"/>
<path d="M1611.6,494.5h-8" opacity="0.9"/>
<path d="M1611.6,583.1h-8" opacity="0.9"/>
<path d="M1611.6,671.8h-8" opacity="0.9"/>
<path d="M1745.5,51.3h-8" opacity="0.6"/>
<path d="M1745.5,130.1h-8" opacity="0.12"/>
<path d="M1745.5,208.9h-8" opacity="0.7"/>
<path d="M1745.5,287.7h-8" opacity="0.7"/>
<path d="M1745.5,366.5h-8" opacity="0.12"/>
<path d="M1745.5,445.2h-8" opacity="0.9"/>
<path d="M1745.5,524.0h-8" opacity="0.9"/>
<path d="M1745.5,602.8h-8" opacity="0.9"/>
<path d="M1745.5,681.6h-8" opacity="0.9"/>
<path d="M1745.5,760.4h-8" opacity="0.12"/>
</g>
<g fill="#111" text-anchor="middle">
<text x="249" y="787.6">100</text>
<text x="446.5" y="787.6">200</text>
<text x="643.9" y="787.6">300</text>
<text x="841.4" y="787.6">400</text>
<text x="1038.8" y="787.6">500</text>
<text x="1236.3" y="787.6">600</text>
<text x="1433.8" y="787.6">700</text>
</g>
<g fill="#14a53c" text-anchor="end">
<text x="114.3" y="58.9">102</text>
<text x="114.3" y="137.7">100</text>
<text x="114.3" y="216.5">98</text>
<text x="114.3" y="295.3">96</text>
<text x="114.3" y="374.1">94</text>
<text x="114.3" y="452.8">92</text>
<text x="114.3" y="531.6">90</text>
<text x="114.3" y="610.4">88</text>
<text x="114.3" y="689.2">86</text>
<text x="114.3" y="768.0">84</text>
</g>
<g fill="#ff3a3a">
<text x="1620" y="58.9">1.0</text>
<text x="1620" y="147.5">0.8</text>
<text x="1620" y="236.2">0.6</text>
<text x="1620" y="324.8">0.4</text>
<text x="1620" y="413.5">0.2</text>
<text x="1620" y="502.1">0.0</text>
<text x="1620" y="590.7">−0.2</text>
<text x="1620" y="679.4">−0.4</text>
<text x="1620" y="768.0">−0.6</text>
</g>
<g fill="#1283c6">
<text x="1753.6" y="58.9">1.6</text>
<text x="1753.6" y="137.7">1.4</text>
<text x="1753.6" y="216.5">1.2</text>
<text x="1753.6" y="295.3">1.0</text>
<text x="1753.6" y="374.1">0.8</text>
<text x="1753.6" y="452.8">0.6</text>
<text x="1753.6" y="531.6">0.4</text>
<text x="1753.6" y="610.4">0.2</text>
<text x="1753.6" y="689.2">0.0</text>
<text x="1753.6" y="768.0">−0.2</text>
</g>
<text x="868" y="822.4" fill="#111" text-anchor="middle" font-size="25.2">Temperature (<tspan font-size="15.5" font-style="italic" dy="-9.5" dx="1.2">o</tspan><tspan dy="9.5" dx="0.8">C)</tspan></text>
<text transform="translate(52,406.4) rotate(-90)" fill="#14a53c" text-anchor="middle">Weight (%)</text>
<text transform="translate(1708.5,402.5) rotate(-90)" fill="#ff3a3a" text-anchor="middle">Temperature differnece (<tspan font-size="15.5" font-style="italic" dy="-9.5" dx="1.2">o</tspan><tspan dy="9.5" dx="0.8">C/mg)</tspan></text>
<text transform="translate(1841.3,405) rotate(-90)" fill="#1283c6" text-anchor="middle">Deriv. Weight (%/min)</text>
<rect x="1139" y="66.4" width="458" height="137.6" fill="#fff" stroke="#111" stroke-width="2.6"/>
<path d="M1159,89.4h12.8M1183.8,89.4h12.8" stroke="#06a02c" stroke-width="4.2" fill="none"/>
<path d="M1159,133.3h6.8M1175.8,133.3h2.4M1187.6,133.3h6.9" stroke="#ff1414" stroke-width="6.6" fill="none"/>
<path d="M1159,176.3h43" stroke="#0c80c6" stroke-width="3.3" fill="none"/>
<g fill="#000" font-size="30"><text x="1234" y="100.2">Weight</text><text x="1234" y="143.6">Temperature differnece</text><text x="1234" y="187">Deriv. Weight</text></g>
</svg>
</body></html>
